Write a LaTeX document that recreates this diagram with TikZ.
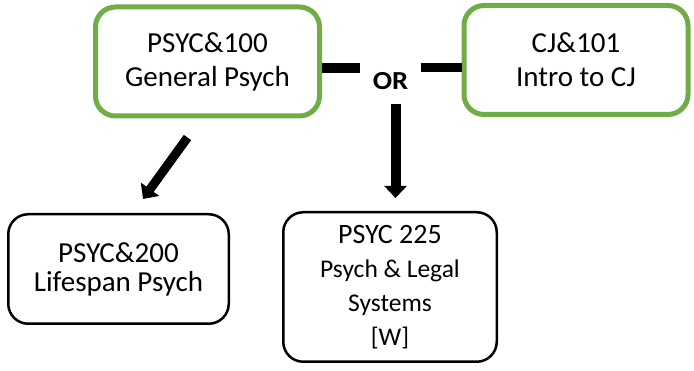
\documentclass[tikz,border=0pt]{standalone}
\usepackage{fontspec}
\setmainfont{Carlito}
\usepackage{tikz}
\usetikzlibrary{arrows.meta,calc}
\definecolor{figgreen}{RGB}{112,173,71}
\newcommand{\bigtx}{\fontsize{29}{34}\selectfont}
\newcommand{\smltx}{\fontsize{25.5}{26.5}\selectfont}
\tikzset{
  crsbox/.style ={rounded corners=20pt,align=center,inner sep=0pt,font=\bigtx},
  gbox/.style   ={crsbox,draw=figgreen,line width=5pt,minimum width=224pt,minimum height=109pt},
  kbox/.style   ={crsbox,draw=black,line width=2.5pt},
  fgline/.style ={line width=9.5pt,black},
  fgarr/.style  ={fgline,-{Triangle[length=12pt,width=22pt]}},
  orlab/.style  ={inner sep=0pt,font=\fontsize{26}{30}\selectfont\bfseries\addfontfeature{FakeStretch=1.1}},
}

\begin{document}
\begin{tikzpicture}[x=1pt,y=1pt]
  \useasboundingbox (0,0) rectangle (694,371);
  % top row
  \node[gbox] (gen) at (207.5,309.5) {PSYC\&100\\General Psych};
  \node[gbox] (cj)  at (576,311)     {CJ\&101\\Intro to CJ};
  \node[orlab] (or) at (390.5,289.5) {OR};
  % bottom row
  \node[kbox,minimum width=220.5pt,minimum height=109.5pt,font=\fontsize{29}{29}\selectfont] (life) at (118.5,102) {PSYC\&200\\Lifespan Psych};
  \node[kbox,minimum width=213.5pt,minimum height=149.5pt] (legal) at (390,84)
    {\fontsize{28}{31}\selectfont PSYC 225\\\smltx Psych \& Legal\\\smltx Systems\\\smltx {[W]}};
  % connectors
  \coordinate (orl)  at (360,303);
  \coordinate (orr)  at (421,303.5);
  \coordinate (ordn) at (395.5,267);
  \coordinate (dgtop) at (187.5,233.5);
  \coordinate (dgtip) at (143,172);
  \draw[fgline] (gen.east |- orl) -- (orl);
  \draw[fgline] (orr) -- (orr -| cj.west);
  \draw[fgarr,line width=10pt,shorten >=13pt] (ordn) -- (ordn |- legal.north);
  \draw[fgarr,line width=9pt] (dgtop) -- (dgtip);
\end{tikzpicture}
\end{document}
